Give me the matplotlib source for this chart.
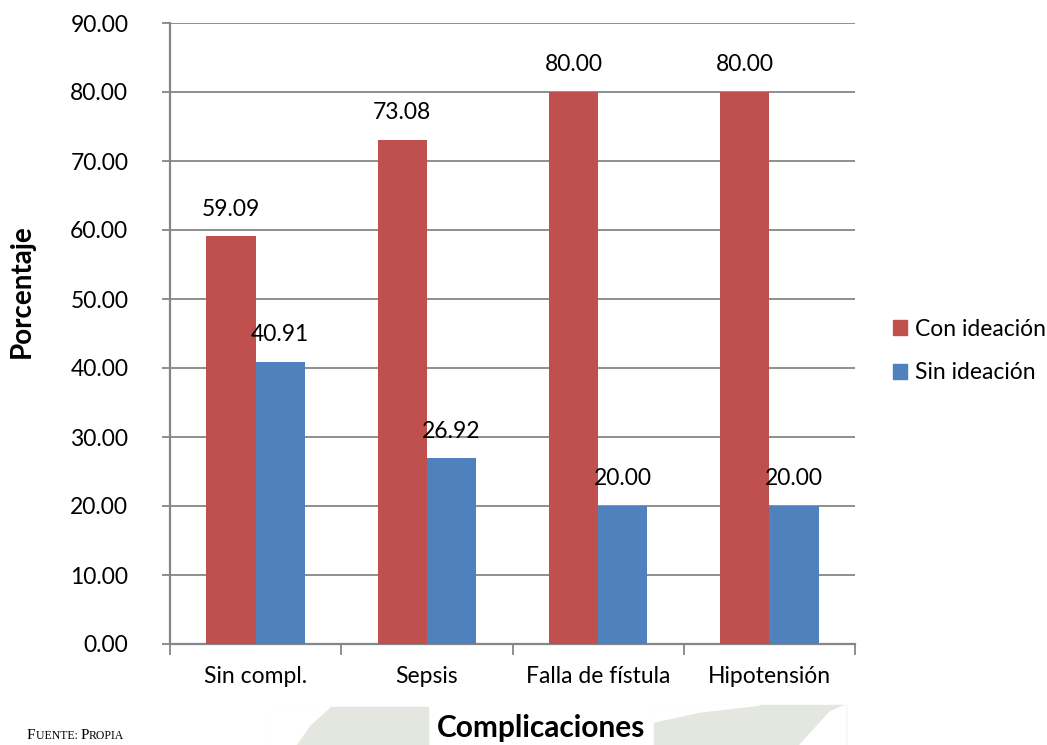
import matplotlib
matplotlib.use("Agg")
import matplotlib.pyplot as plt
from matplotlib.patches import Polygon, Patch
from matplotlib.ticker import FormatStrFormatter
import numpy as np

# percentages by complication
categorias = ["Sin compl.", "Sepsis", "Falla de fístula", "Hipotensión"]
con_ideacion = [59.09, 73.08, 80.00, 80.00]
sin_ideacion = [40.91, 26.92, 20.00, 20.00]
series = ["Con ideación", "Sin ideación"]
colores = ["#C0504D", "#4F81BD"]

plt.rcParams['font.family'] = ['Lato', 'DejaVu Sans']
W, H = 1047, 745
fs = 16.5


def px(x, y):
    # pixel position (from top-left) -> figure fraction
    return (x / W, 1 - y / H)


fig = plt.figure(figsize=(W / 100, H / 100), dpi=100)

# faint watermark shapes behind the x title
wm = "#E3E7E0"
shapes = [
    ([(272, 707), (428, 707), (428, 745), (272, 745)], wm),
    ([(272, 707), (330, 707), (310, 725), (296, 745), (272, 745)], "white"),
    ([(654, 705), (846, 705), (846, 745), (654, 745)], wm),
    ([(654, 705), (760, 705), (700, 712), (654, 722)], "white"),
    ([(846, 705), (846, 745), (800, 745), (830, 712)], "white"),
]
for pts, c in shapes:
    fig.patches.append(Polygon([px(*p) for p in pts], closed=True,
                               transform=fig.transFigure, color=c, zorder=0))

x0, y0 = px(170, 644)
x1, y1 = px(855, 23)
ax = fig.add_axes([x0, y0, x1 - x0, y1 - y0])
ax.patch.set_alpha(0)

x = np.arange(len(categorias))
w = 0.287
b1 = ax.bar(x - w / 2, con_ideacion, w, color=colores[0], zorder=3)
b2 = ax.bar(x + w / 2, sin_ideacion, w, color=colores[1], zorder=3)

for bars, vals in ((b1, con_ideacion), (b2, sin_ideacion)):
    for r, v in zip(bars, vals):
        ax.annotate("%.2f" % v, (r.get_x() + r.get_width() / 2, v),
                    xytext=(0, 12), textcoords="offset points",
                    ha="center", va="bottom", fontsize=fs, zorder=5)

grey = "#868686"
ax.set_ylim(0, 90)
ax.set_xlim(-0.5, len(categorias) - 0.5)
ax.set_yticks(np.arange(0, 91, 10))
ax.yaxis.set_major_formatter(FormatStrFormatter("%.2f"))
ax.grid(axis="y", color=grey, linewidth=1.3, zorder=0)
ax.set_axisbelow(True)

ax.set_xticks(np.arange(-0.5, len(categorias), 1))
ax.set_xticklabels([])
ax.set_xticks(x, minor=True)
ax.set_xticklabels(categorias, minor=True)
ax.tick_params(axis="x", which="major", direction="out", length=8, width=1.3, color=grey)
ax.tick_params(axis="x", which="minor", length=0, pad=16, labelsize=fs)
ax.tick_params(axis="y", direction="out", length=6, width=1.3, color=grey, pad=24, labelsize=fs)

for s in ("top", "right"):
    ax.spines[s].set_visible(False)
for s in ("left", "bottom"):
    ax.spines[s].set_color(grey)
    ax.spines[s].set_linewidth(1.6)

fig.text(*px(22, 291), "Porcentaje", rotation=90, ha="center", va="center",
         fontsize=20, fontweight="bold")
fig.text(*px(541, 728), "Complicaciones", ha="center", va="center",
         fontsize=21.5, fontweight="bold",
         bbox=dict(facecolor="white", edgecolor="none", pad=4))

handles = [Patch(color=c) for c in colores]
fig.legend(handles, series, loc="center left", bbox_to_anchor=px(893, 351),
           frameon=False, fontsize=fs, handlelength=0.6, handleheight=0.6,
           handletextpad=0.35, labelspacing=1.0, borderpad=0, borderaxespad=0)

# small-caps source note
fig.canvas.draw()
r = fig.canvas.get_renderer()
xx = 27
for txt, size in (("F", 11), ("UENTE: ", 8.5), ("P", 11), ("ROPIA", 8.5)):
    t = fig.text(xx / W, 1 - 739 / H, txt, fontsize=size, family="Liberation Serif",
                 ha="left", va="baseline")
    xx += t.get_window_extent(renderer=r).width

fig.savefig("out.png", dpi=100)
